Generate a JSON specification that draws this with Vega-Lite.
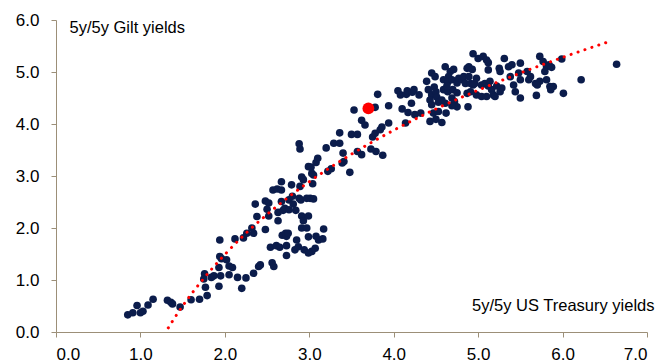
{
  "$schema": "https://vega.github.io/schema/vega-lite/v6.json",
  "width": 591,
  "height": 312,
  "autosize": {"type": "none"},
  "padding": {"left": 56, "top": 20, "right": 11, "bottom": 32},
  "background": "white",
  "config": {"view": {"stroke": null}, "font": "Liberation Sans"},
  "datasets": {
    "pts": [
      {"x":0.85,"y":0.33},{"x":0.91,"y":0.37},{"x":0.96,"y":0.51},{"x":1.00,"y":0.37},{"x":1.03,"y":0.40},{"x":1.09,"y":0.52},{"x":1.15,"y":0.63},{"x":1.32,"y":0.61},{"x":1.36,"y":0.57},{"x":1.38,"y":0.54},{"x":1.47,"y":0.48},{"x":1.60,"y":0.62},{"x":1.70,"y":0.63},{"x":1.79,"y":0.70},{"x":1.76,"y":1.12},{"x":1.75,"y":1.02},{"x":1.77,"y":0.86},{"x":1.84,"y":1.05},{"x":1.87,"y":1.08},{"x":1.93,"y":0.88},{"x":1.94,"y":1.77},{"x":1.94,"y":1.45},{"x":1.96,"y":1.41},{"x":1.93,"y":1.24},{"x":1.95,"y":1.08},{"x":2.02,"y":1.39},{"x":2.05,"y":1.27},{"x":2.09,"y":1.24},{"x":2.05,"y":1.10},{"x":2.15,"y":1.05},{"x":2.20,"y":0.84},{"x":2.25,"y":1.04},{"x":2.12,"y":1.79},{"x":2.22,"y":1.81},{"x":2.26,"y":1.90},{"x":2.34,"y":1.90},{"x":2.34,"y":1.13},{"x":2.40,"y":1.26},{"x":2.42,"y":1.29},{"x":2.36,"y":2.46},{"x":2.38,"y":2.22},{"x":2.48,"y":1.97},{"x":2.48,"y":2.52},{"x":2.52,"y":2.48},{"x":2.50,"y":2.36},{"x":2.52,"y":2.23},{"x":2.54,"y":1.63},{"x":2.56,"y":1.33},{"x":2.58,"y":1.26},{"x":2.61,"y":1.66},{"x":2.65,"y":1.63},{"x":2.57,"y":2.73},{"x":2.62,"y":2.75},{"x":2.67,"y":2.73},{"x":2.67,"y":2.89},{"x":2.63,"y":2.14},{"x":2.63,"y":2.30},{"x":2.69,"y":2.34},{"x":2.71,"y":2.38},{"x":2.68,"y":1.86},{"x":2.72,"y":1.90},{"x":2.73,"y":1.84},{"x":2.75,"y":1.90},{"x":2.73,"y":1.47},{"x":2.73,"y":1.66},{"x":2.79,"y":2.83},{"x":2.76,"y":2.54},{"x":2.80,"y":2.61},{"x":2.76,"y":2.35},{"x":2.81,"y":2.46},{"x":2.84,"y":2.34},{"x":2.83,"y":1.58},{"x":2.85,"y":1.77},{"x":2.87,"y":1.64},{"x":2.88,"y":3.62},{"x":2.89,"y":3.52},{"x":2.88,"y":2.57},{"x":2.90,"y":2.54},{"x":2.91,"y":2.98},{"x":2.93,"y":2.93},{"x":2.91,"y":2.23},{"x":2.93,"y":2.14},{"x":2.91,"y":2.00},{"x":2.94,"y":1.58},{"x":2.97,"y":2.00},{"x":2.99,"y":1.83},{"x":2.99,"y":2.23},{"x":3.01,"y":2.57},{"x":3.05,"y":2.56},{"x":2.99,"y":3.18},{"x":3.02,"y":3.17},{"x":3.03,"y":3.05},{"x":3.05,"y":3.02},{"x":3.08,"y":3.26},{"x":3.10,"y":3.34},{"x":3.03,"y":1.55},{"x":3.07,"y":1.61},{"x":3.11,"y":1.77},{"x":3.08,"y":1.84},{"x":3.17,"y":1.98},{"x":3.16,"y":1.79},{"x":3.20,"y":3.54},{"x":3.22,"y":3.09},
      {"x":3.53,"y":4.27},{"x":3.62,"y":4.07},{"x":3.66,"y":3.98},{"x":3.50,"y":3.80},{"x":3.57,"y":3.80},{"x":3.75,"y":3.75},{"x":3.78,"y":3.82},{"x":3.73,"y":3.52},{"x":3.79,"y":3.47},{"x":3.62,"y":3.41},{"x":3.57,"y":3.47},{"x":3.48,"y":3.07},{"x":3.40,"y":3.44},{"x":3.41,"y":3.28},{"x":3.36,"y":3.83},{"x":3.29,"y":3.63},{"x":3.36,"y":3.63},{"x":3.39,"y":3.25},{"x":3.26,"y":3.14},{"x":3.04,"y":2.85},{"x":2.89,"y":2.80},{"x":2.97,"y":2.57},
      {"x":3.78,"y":4.32},{"x":3.81,"y":4.57},{"x":3.94,"y":4.35},{"x":3.94,"y":4.02},{"x":3.84,"y":3.89},{"x":3.86,"y":3.94},{"x":3.87,"y":3.40},{"x":4.05,"y":4.64},{"x":4.08,"y":4.56},{"x":4.15,"y":4.57},{"x":4.16,"y":4.64},{"x":4.22,"y":4.61},{"x":4.24,"y":4.66},{"x":4.10,"y":4.29},{"x":4.17,"y":4.22},{"x":4.21,"y":4.40},{"x":4.25,"y":4.18},{"x":4.32,"y":4.21},{"x":4.14,"y":4.02},{"x":4.39,"y":4.82},{"x":4.45,"y":4.98},{"x":4.49,"y":4.91},{"x":4.41,"y":4.66},{"x":4.45,"y":4.56},{"x":4.43,"y":4.46},{"x":4.45,"y":4.37},{"x":4.48,"y":4.71},{"x":4.50,"y":4.62},{"x":4.51,"y":4.52},{"x":4.53,"y":4.42},{"x":4.43,"y":4.05},{"x":4.50,"y":4.09},{"x":4.57,"y":4.03},{"x":4.47,"y":4.21},{"x":4.53,"y":4.24},{"x":4.62,"y":4.21},{"x":4.61,"y":5.10},{"x":4.67,"y":5.01},{"x":4.71,"y":5.05},{"x":4.65,"y":4.91},{"x":4.59,"y":4.85},{"x":4.64,"y":4.81},{"x":4.69,"y":4.85},{"x":4.75,"y":4.79},{"x":4.59,"y":4.66},{"x":4.64,"y":4.62},{"x":4.70,"y":4.66},{"x":4.75,"y":4.60},{"x":4.69,"y":4.50},{"x":4.72,"y":4.43},{"x":4.75,"y":4.33},{"x":4.69,"y":4.35},{"x":4.77,"y":4.88},{"x":4.81,"y":4.85},{"x":4.83,"y":4.91},{"x":4.85,"y":4.78},{"x":4.87,"y":5.07},{"x":4.89,"y":5.10},{"x":4.93,"y":5.05},{"x":4.94,"y":5.35},{"x":5.00,"y":5.26},{"x":5.06,"y":5.30},{"x":5.10,"y":5.23},{"x":5.12,"y":5.18},{"x":4.89,"y":4.91},{"x":4.91,"y":4.78},{"x":4.94,"y":4.75},{"x":4.96,"y":4.78},{"x":4.98,"y":4.88},{"x":4.87,"y":4.59},{"x":4.91,"y":4.62},{"x":4.98,"y":4.56},{"x":5.04,"y":4.53},{"x":5.10,"y":4.53},{"x":4.88,"y":4.33},{"x":5.04,"y":4.75},{"x":5.08,"y":4.78},{"x":5.12,"y":4.73},{"x":5.14,"y":4.82},{"x":5.12,"y":5.04},{"x":5.16,"y":4.66},{"x":5.18,"y":4.56},{"x":5.20,"y":4.53},{"x":5.26,"y":4.62},{"x":5.28,"y":4.69},{"x":5.25,"y":5.07},{"x":5.26,"y":5.01},{"x":5.31,"y":5.26},{"x":5.36,"y":5.10},{"x":5.40,"y":5.14},{"x":5.38,"y":4.91},{"x":5.48,"y":4.98},{"x":5.50,"y":4.85},{"x":5.44,"y":4.62},{"x":5.50,"y":4.50},{"x":5.50,"y":5.17},{"x":5.58,"y":5.01},{"x":5.62,"y":4.91},{"x":5.60,"y":4.85},{"x":5.68,"y":4.78},{"x":5.73,"y":4.82},{"x":5.70,"y":4.75},{"x":5.69,"y":4.55},{"x":5.73,"y":5.30},{"x":5.77,"y":5.20},{"x":5.81,"y":5.10},{"x":5.79,"y":5.01},{"x":5.84,"y":5.14},{"x":5.87,"y":5.09},{"x":5.85,"y":4.72},{"x":5.89,"y":4.72},{"x":5.86,"y":4.66},{"x":5.99,"y":5.25},{"x":6.01,"y":4.59},{"x":6.22,"y":4.85},{"x":6.64,"y":5.15},
      {"x":4.30,"y":4.56},{"x":4.63,"y":4.73},{"x":4.57,"y":4.46},{"x":4.61,"y":4.40},{"x":5.22,"y":4.73},{"x":5.42,"y":4.75},{"x":5.81,"y":4.85},{"x":2.67,"y":2.51},{"x":2.32,"y":2.00},{"x":2.99,"y":1.52}
    ],
    "trend": [
      {"x":1.33,"y":0.08},{"x":1.4,"y":0.26},{"x":1.5,"y":0.50},{"x":1.75,"y":1.03},{"x":2.0,"y":1.49},{"x":2.25,"y":1.90},{"x":2.5,"y":2.26},{"x":2.75,"y":2.59},{"x":3.0,"y":2.89},{"x":3.5,"y":3.42},{"x":4.0,"y":3.88},{"x":4.5,"y":4.29},{"x":5.0,"y":4.65},{"x":5.5,"y":4.98},{"x":6.0,"y":5.28},{"x":6.58,"y":5.60}
    ],
    "latest": [{"x":3.70,"y":4.30}]
  },
  "encoding": {
    "x": {
      "field": "x", "type": "quantitative",
      "scale": {"domain": [0, 7], "nice": false, "zero": false},
      "axis": {
        "values": [0,1,2,3,4,5,6,7], "format": ".1f", "grid": false,
        "domainColor": "#9c8f78", "tickColor": "#9c8f78", "tickSize": 5,
        "labelFontSize": 17, "labelColor": "#000000", "labelPadding": 9, "labelFont": "Liberation Sans",
        "title": "5y/5y US Treasury yields", "titleFont": "Liberation Sans", "titleFontSize": 16.5, "titleFontWeight": "normal", "titleColor": "#000000",
        "titleX": 598, "titleY": -21.5, "titleAlign": "right", "titleBaseline": "alphabetic", "titleAngle": 0
      }
    },
    "y": {
      "field": "y", "type": "quantitative",
      "scale": {"domain": [0, 6], "nice": false, "zero": false},
      "axis": {
        "values": [0,1,2,3,4,5,6], "format": ".1f", "grid": false,
        "domainColor": "#9c8f78", "tickColor": "#9c8f78", "tickSize": 5,
        "labelFontSize": 17, "labelColor": "#000000", "labelPadding": 12, "labelFont": "Liberation Sans",
        "title": "5y/5y Gilt yields", "titleFont": "Liberation Sans", "titleFontSize": 16.5, "titleFontWeight": "normal", "titleColor": "#000000",
        "titleX": 13, "titleY": 12, "titleAlign": "left", "titleBaseline": "alphabetic", "titleAngle": 0
      }
    }
  },
  "layer": [
    {"data": {"name": "pts"}, "mark": {"type": "circle", "size": 58, "color": "#0b1c4b", "opacity": 1}},
    {"data": {"name": "trend"}, "mark": {"type": "line", "color": "#ff0000", "strokeWidth": 3, "strokeDash": [0.1, 7.2], "strokeCap": "round", "interpolate": "monotone"}},
    {"data": {"name": "latest"}, "mark": {"type": "circle", "size": 140, "color": "#ff0000", "opacity": 1}}
  ]
}
